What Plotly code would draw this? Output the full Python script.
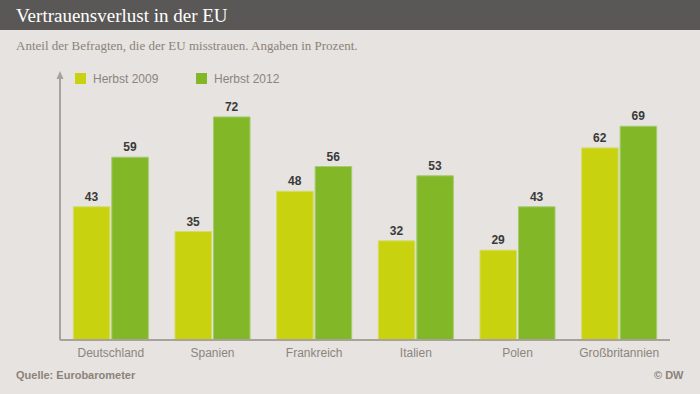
import plotly.graph_objects as go

categories = ["Deutschland", "Spanien", "Frankreich", "Italien", "Polen", "Großbritannien"]
herbst_2009 = [43, 35, 48, 32, 29, 62]
herbst_2012 = [59, 72, 56, 53, 43, 69]
series_names = ["Herbst 2009", "Herbst 2012"]

C09 = "#c8d20f"
C12 = "#82b828"
BG = "#e6e3e0"
GREY = "#8c857e"
AXIS = "#a9a29b"

fig = go.Figure()
for name, vals, col, edge in [(series_names[0], herbst_2009, C09, "#d6dc6a"),
                              (series_names[1], herbst_2012, C12, "#a5cc70")]:
    fig.add_trace(go.Bar(
        x=categories, y=vals, name=name,
        marker=dict(color=col, line=dict(color=edge, width=1)),
        text=[str(v) for v in vals], textposition="outside",
        textfont=dict(family="Liberation Sans, Arial", size=12, color="#3a3a3a"),
        texttemplate="<b>%{text}</b>", cliponaxis=False, hoverinfo="skip",
    ))

fig.update_layout(
    width=700, height=394,
    paper_bgcolor=BG, plot_bgcolor=BG,
    margin=dict(l=60, r=30, t=72, b=54),
    barmode="group", bargap=0.243, bargroupgap=0.05,
    showlegend=False,
    xaxis=dict(showgrid=False, showline=False, ticks="", ticklabelstandoff=4,
               tickfont=dict(family="Liberation Sans, Arial", size=12, color=GREY)),
    yaxis=dict(range=[0, 86.5], showgrid=False, showline=False, zeroline=False,
               showticklabels=False, ticks=""),
    font=dict(family="Liberation Sans, Arial"),
)

def px(x):
    return (x-60)/610
def py(y):
    return (340-y)/268

shapes = [
    # header band
    dict(type="rect", xref="paper", yref="paper", x0=px(0), x1=px(700),
         y0=py(30), y1=py(0), line=dict(width=0),
         fillcolor="#5a5856", layer="below"),
    # y axis line
    dict(type="line", xref="paper", yref="paper", x0=0, x1=0, y0=0, y1=py(76),
         line=dict(color=AXIS, width=2)),
    # arrow head
    dict(type="path", xref="paper", yref="paper",
         path=f"M {px(56.5)},{py(79)} L {px(63.5)},{py(79)} L 0,{py(71)} Z",
         fillcolor=AXIS, line=dict(width=0)),
    # baseline
    dict(type="line", xref="paper", yref="paper", x0=0, x1=1, y0=0, y1=0,
         line=dict(color=AXIS, width=2)),
]
# legend squares
for xpx, col in [(75, C09), (196, C12)]:
    shapes.append(dict(type="rect", xref="paper", yref="paper",
                       x0=px(xpx), x1=px(xpx+11),
                       y0=py(84), y1=py(73),
                       fillcolor=col, line=dict(width=0)))
fig.update_layout(shapes=shapes)

ann = [
    dict(text="Vertrauensverlust in der EU", x=px(14), y=py(15), xanchor="left", yanchor="middle",
         font=dict(family="Liberation Serif, Georgia, serif", size=19, color="white")),
    dict(text="Anteil der Befragten, die der EU misstrauen. Angaben in Prozent.", x=px(14), y=py(45),
         xanchor="left", yanchor="middle",
         font=dict(family="Liberation Serif, Georgia, serif", size=13, color="#8c8278")),
    dict(text="Herbst 2009", x=px(91), y=py(79), xanchor="left", yanchor="middle",
         font=dict(family="Liberation Sans, Arial", size=12, color=GREY)),
    dict(text="Herbst 2012", x=px(212), y=py(79), xanchor="left", yanchor="middle",
         font=dict(family="Liberation Sans, Arial", size=12, color=GREY)),
    dict(text="<b>Quelle: Eurobarometer</b>", x=px(14), y=py(375), xanchor="left", yanchor="middle",
         font=dict(family="Liberation Sans Narrow, Liberation Sans, Arial", size=11, color="#8c8278")),
    dict(text="<b>© DW</b>", x=px(686), y=py(375), xanchor="right", yanchor="middle",
         font=dict(family="Liberation Sans Narrow, Liberation Sans, Arial", size=11, color="#8c8278")),
]
for a in ann:
    a.update(xref="paper", yref="paper", showarrow=False)
fig.update_layout(annotations=ann)

fig.write_html("out.html", config={"displayModeBar": False, "staticPlot": True},
               post_script="document.body.style.margin='0';document.body.style.padding='0';")
